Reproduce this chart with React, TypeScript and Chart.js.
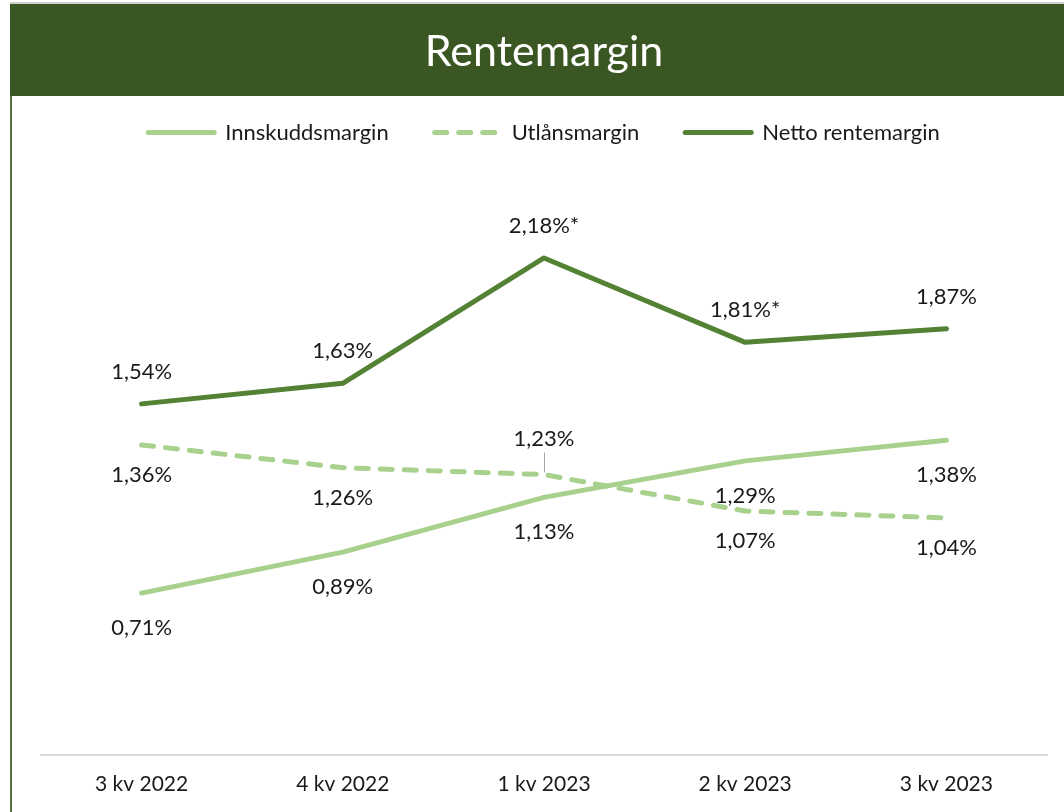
import React, { useEffect, useRef } from "react";
import { Chart, registerables } from "chart.js";

Chart.register(...registerables);

const categories = ["3 kv 2022", "4 kv 2022", "1 kv 2023", "2 kv 2023", "3 kv 2023"];
const innskuddsmargin = [0.71, 0.89, 1.13, 1.29, 1.38];
const utlansmargin = [1.36, 1.26, 1.23, 1.07, 1.04];
const nettoRentemargin = [1.54, 1.63, 2.18, 1.81, 1.87];
const nettoNotes = ["", "", "*", "*", ""];
// label placement: "a" above, "b" below, "s" just below, "L" above with leader line
const innskuddPlacement = ["b", "b", "b", "b", "b"];
const utlanPlacement = ["s", "s", "L", "s", "s"];
const nettoPlacement = ["a", "a", "a", "a", "a"];

const FONT = "Lato, 'Open Sans', sans-serif";
const DARK = "#548235";
const LIGHT = "#a9d18e";
const BANNER = "#3a5723";
const TEXT = "#1a1a1a";

const fmt = (v: number) => v.toFixed(2).replace(".", ",") + "%";

const bannerPlugin = {
  id: "banner",
  beforeDraw(chart: any) {
    const ctx = chart.ctx;
    ctx.save();
    ctx.fillStyle = "#ffffff";
    ctx.fillRect(0, 0, chart.width, chart.height);
    ctx.fillStyle = "#d0d0d0";
    ctx.fillRect(10, 2, chart.width - 10, 2);
    ctx.fillStyle = BANNER;
    ctx.fillRect(10, 4, chart.width - 10, 92);
    ctx.fillStyle = "#55703f";
    ctx.fillRect(10, 96, 2, chart.height - 96);
    ctx.restore();
  },
};

const legendSpacing = {
  id: "legendSpacing",
  beforeInit(chart: any) {
    const legend = chart.legend;
    if (!legend) return;
    const orig = legend.fit;
    legend.fit = function () {
      orig.call(this);
      this.height += 31.4;
    };
  },
};

const labelsPlugin = {
  id: "valueLabels",
  afterDatasetsDraw(chart: any) {
    const ctx = chart.ctx;
    ctx.save();
    ctx.font = `22px ${FONT}`;
    ctx.fillStyle = TEXT;
    ctx.textAlign = "center";
    ctx.textBaseline = "middle";
    chart.data.datasets.forEach((ds: any, di: number) => {
      const meta = chart.getDatasetMeta(di);
      meta.data.forEach((pt: any, i: number) => {
        const place = ds.placement[i];
        const text = fmt(ds.data[i]) + (ds.notes ? ds.notes[i] : "");
        let y = pt.y;
        if (place === "a") y -= 32;
        else if (place === "b") y += 35;
        else if (place === "s") y += 30;
        else if (place === "L") {
          y -= 36;
          ctx.save();
          ctx.strokeStyle = "#a6a6a6";
          ctx.lineWidth = 1;
          ctx.beginPath();
          ctx.moveTo(pt.x + 0.5, y + 14);
          ctx.lineTo(pt.x + 0.5, pt.y - 2);
          ctx.stroke();
          ctx.restore();
        }
        ctx.fillText(text, pt.x, y);
      });
    });
    ctx.restore();
  },
};

export default function App() {
  const ref = useRef<HTMLCanvasElement | null>(null);
  useEffect(() => {
    if (!ref.current) return;
    const common = {
      pointRadius: 0,
      pointHoverRadius: 0,
      borderWidth: 5,
      tension: 0,
      fill: false,
      borderCapStyle: "round",
      borderJoinStyle: "round",
    };
    const chart = new Chart(ref.current, {
      type: "line",
      data: {
        labels: categories,
        datasets: [
          {
            ...common,
            label: "Innskuddsmargin",
            data: innskuddsmargin,
            borderColor: LIGHT,
            backgroundColor: LIGHT,
            placement: innskuddPlacement,
          } as any,
          {
            ...common,
            label: "Utlånsmargin",
            data: utlansmargin,
            borderColor: LIGHT,
            backgroundColor: LIGHT,
            borderDash: [12, 12],
            placement: utlanPlacement,
          } as any,
          {
            ...common,
            label: "Netto rentemargin",
            data: nettoRentemargin,
            borderColor: DARK,
            backgroundColor: DARK,
            placement: nettoPlacement,
            notes: nettoNotes,
          } as any,
        ],
      },
      options: {
        animation: false,
        responsive: true,
        maintainAspectRatio: false,
        layout: { padding: { left: 41, right: 17, top: 0, bottom: 0 } },
        plugins: {
          tooltip: { enabled: false },
          title: {
            display: true,
            text: "Rentemargin",
            color: "#ffffff",
            font: { family: FONT, size: 43, weight: "normal" },
            padding: { top: 26, bottom: -2 },
          },
          legend: {
            display: true,
            position: "top",
            labels: {
              usePointStyle: true,
              pointStyle: "line",
              pointStyleWidth: 66,
              padding: 46,
              color: TEXT,
              font: { family: FONT, size: 22 },
              generateLabels: (chart: any) => {
                const items = (Chart as any).defaults.plugins.legend.labels.generateLabels(chart);
                items.forEach((it: any) => {
                  const ds: any = chart.data.datasets[it.datasetIndex];
                  it.lineDash = ds.borderDash || [];
                  it.lineCap = "round";
                  it.lineWidth = 5;
                  it.strokeStyle = ds.borderColor;
                  it.fillStyle = ds.borderColor;
                  it.pointStyle = "line";
                });
                return items;
              },
            },
          },
        },
        scales: {
          x: {
            offset: true,
            grid: { display: false, drawTicks: false },
            border: { display: true, color: "#d9d9d9", width: 2 },
            ticks: { color: TEXT, font: { family: FONT, size: 21 }, padding: 17 },
            afterFit: (scale: any) => {
              scale.height = 57;
            },
          },
          y: {
            display: false,
            min: 0,
            max: 2.5,
          },
        },
      } as any,
      plugins: [bannerPlugin, legendSpacing, labelsPlugin],
    });
    return () => chart.destroy();
  }, []);
  return (
    <div style={{ position: "fixed", left: 0, top: 0, width: 1064, height: 812 }}>
      <canvas ref={ref} />
    </div>
  );
}
